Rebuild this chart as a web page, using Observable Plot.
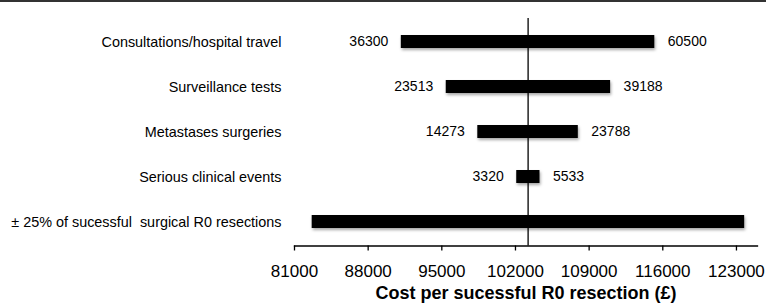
<!DOCTYPE html>
<html>
<head>
<meta charset="utf-8">
<script src="https://cdn.jsdelivr.net/npm/d3@7"></script>
<script src="https://cdn.jsdelivr.net/npm/@observablehq/plot@0.6"></script>
<style>
  html, body { margin: 0; padding: 0; background: #fff; }
  #wrap { position: relative; width: 766px; height: 307px; overflow: hidden; }
  #topline { position: absolute; left: 0; top: 0; width: 766px; height: 2px; background: #333; }
  svg text { white-space: pre; }
</style>
</head>
<body>
<div id="wrap"><div id="topline"></div></div>
<script>
const categories = [
  "Consultations/hospital travel",
  "Surveillance tests",
  "Metastases surgeries",
  "Serious clinical events",
  "± 25% of sucessful  surgical R0 resections"
];
const lowValues  = [91150, 95420, 98420, 102120, 82680];
const highValues = [115240, 111040, 107970, 104330, 123780];
const lowLabels  = ["36300", "23513", "14273", "3320", ""];
const highLabels = ["60500", "39188", "23788", "5533", ""];
const baseline = 103200;
const xTicks = [81000, 88000, 95000, 102000, 109000, 116000, 123000];
const xTitle = "Cost per sucessful R0 resection (£)";

const rows = categories.map((c, i) => ({
  category: c, low: lowValues[i], high: highValues[i],
  lowLabel: lowLabels[i], highLabel: highLabels[i]
}));

const chart = Plot.plot({
  width: 766,
  height: 307,
  marginLeft: 294,
  marginRight: 9,
  marginTop: 18,
  marginBottom: 61.5,
  style: { fontFamily: "'Liberation Sans', Arial, sans-serif", color: "#000", background: "transparent" },
  x: { domain: [81000, 125000] },
  y: { domain: categories, padding: 0 },
  marks: [
    Plot.barX(rows, { x1: "low", x2: "high", y: "category", fill: "#000", insetTop: 16, insetBottom: 16 }),
    Plot.ruleX([baseline], { stroke: "#000", strokeWidth: 1.3 }),
    Plot.frame({ anchor: "bottom", stroke: "#000", strokeWidth: 1.3 }),
    Plot.axisX({ ticks: xTicks, tickSize: 5, tickPadding: 13.5, tickFormat: d => String(d), fontSize: 17, label: null, strokeWidth: 1.3 }),
    Plot.axisY({ tickSize: 0, tickPadding: 13, fontSize: 14.4, label: null }),
    Plot.text(rows, { x: "low", y: "category", text: "lowLabel", textAnchor: "end", dx: -13, fontSize: 14 }),
    Plot.text(rows, { x: "high", y: "category", text: "highLabel", textAnchor: "start", dx: 13, fontSize: 14 }),
    Plot.text([xTitle], { frameAnchor: "bottom", dy: 52.5, fontSize: 18, fontWeight: "bold" })
  ]
});
document.getElementById("wrap").appendChild(chart);
const barG = chart.querySelector('g[aria-label="bar"]');
if (barG) barG.style.filter = "drop-shadow(1px 2px 1.5px rgba(0,0,0,0.35))";
</script>
</body>
</html>
